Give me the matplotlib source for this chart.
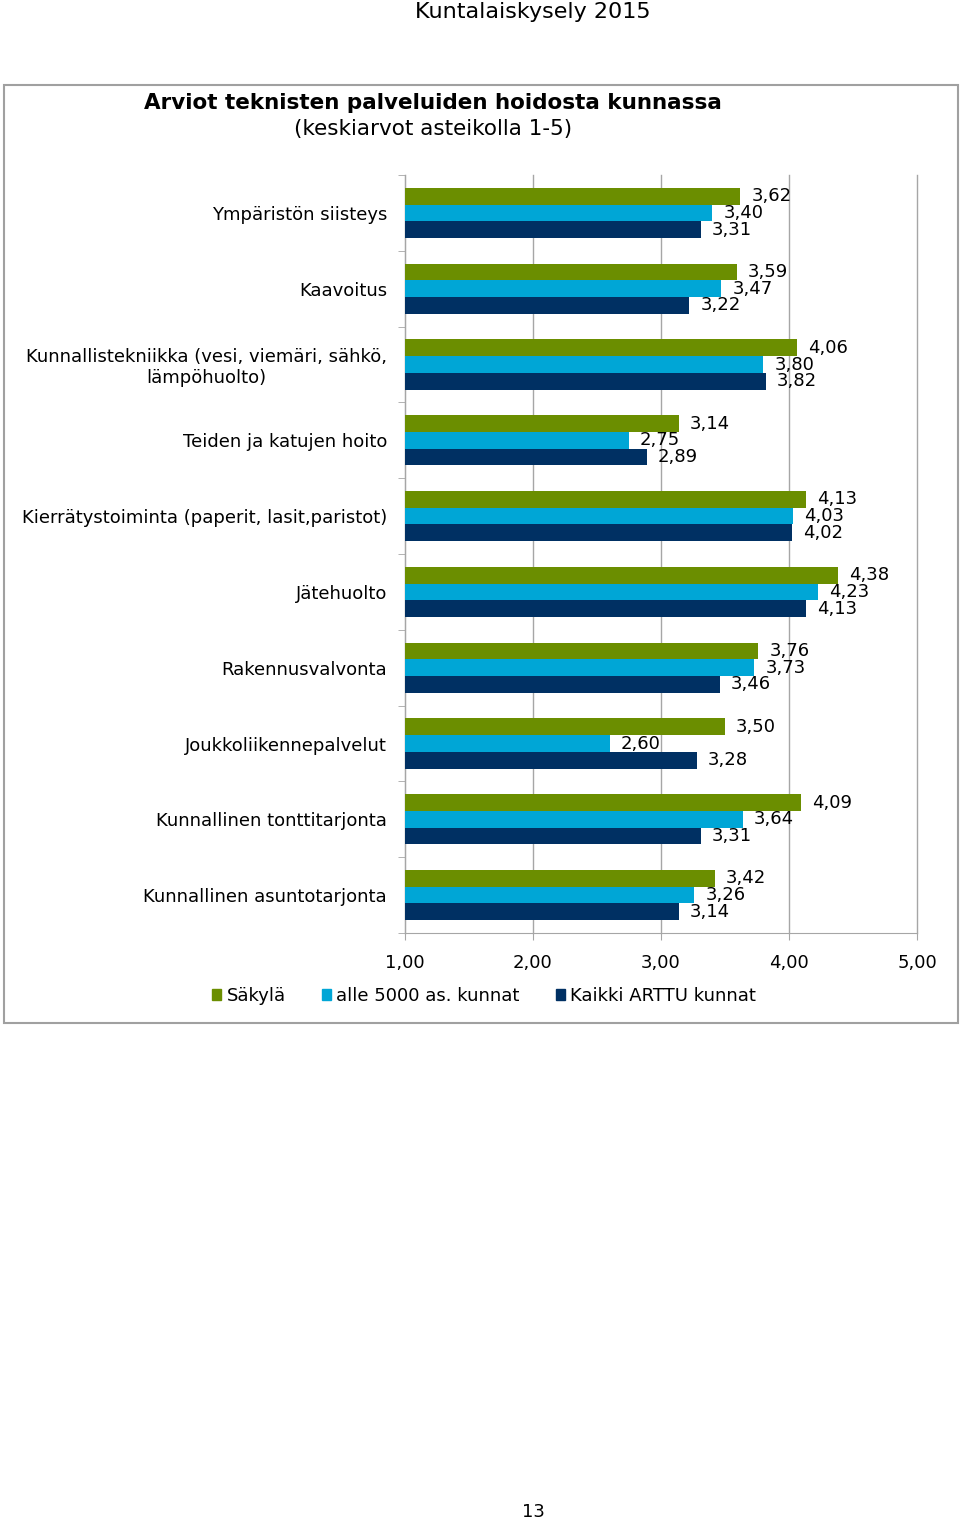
import numpy as np
import matplotlib.pyplot as plt
from matplotlib.patches import Patch, Rectangle

categories = [
    "Ympäristön siisteys",
    "Kaavoitus",
    "Kunnallistekniikka (vesi, viemäri, sähkö,\nlämpöhuolto)",
    "Teiden ja katujen hoito",
    "Kierrätystoiminta (paperit, lasit,paristot)",
    "Jätehuolto",
    "Rakennusvalvonta",
    "Joukkoliikennepalvelut",
    "Kunnallinen tonttitarjonta",
    "Kunnallinen asuntotarjonta",
]
sakyla = [3.62, 3.59, 4.06, 3.14, 4.13, 4.38, 3.76, 3.50, 4.09, 3.42]
alle5000 = [3.40, 3.47, 3.80, 2.75, 4.03, 4.23, 3.73, 2.60, 3.64, 3.26]
kaikki = [3.31, 3.22, 3.82, 2.89, 4.02, 4.13, 3.46, 3.28, 3.31, 3.14]
series_names = ["Säkylä", "alle 5000 as. kunnat", "Kaikki ARTTU kunnat"]
colors = ["#6b8e00", "#00a6d6", "#003063"]
xticks = [1, 2, 3, 4, 5]

W, H = 960, 1523
fig = plt.figure(figsize=(W / 100, H / 100), dpi=100)
fs = 13

fig.text(533 / W, 1 - 12 / H, "Kuntalaiskysely 2015", ha="center", va="center", fontsize=16)
fig.text(533 / W, 1 - 1512 / H, "13", ha="center", va="center", fontsize=13)

# chart border
fig.patches.append(Rectangle((4 / W, 1 - 1023 / H), 954 / W, 938 / H, transform=fig.transFigure,
                             fill=False, edgecolor="#a0a0a0", lw=1.5))
fig.text(433 / W, 1 - 103 / H, "Arviot teknisten palveluiden hoidosta kunnassa", ha="center", va="center",
         fontsize=15.5, fontweight="bold")
fig.text(433 / W, 1 - 129 / H, "(keskiarvot asteikolla 1-5)", ha="center", va="center", fontsize=15.5)

ax = fig.add_axes([405 / W, 1 - 933 / H, 512 / W, 758 / H])
y = np.arange(len(categories))
h = 0.22
gray = "#a6a6a6"
for k, (vals, col) in enumerate(zip([sakyla, alle5000, kaikki], colors)):
    pos = y + (k - 1) * h
    ax.barh(pos, np.array(vals) - 1, left=1, height=h, color=col, zorder=3)
    for p, v in zip(pos, vals):
        ax.annotate(f"{v:.2f}".replace(".", ","), (v, p), xytext=(8, 0), textcoords="offset points",
                    va="center", ha="left", fontsize=fs, zorder=4)

ax.set_xlim(1, 5)
ax.set_ylim(len(categories) - 0.5, -0.5)
ax.set_xticks(xticks)
ax.set_xticklabels([f"{t:.2f}".replace(".", ",") for t in xticks], fontsize=fs)
ax.set_yticks(y)
ax.set_yticklabels(categories, fontsize=fs)
for lab in ax.get_yticklabels():
    lab.set_multialignment("center")
ax.set_yticks(np.arange(-0.5, len(categories), 1), minor=True)
ax.tick_params(axis="y", which="major", length=0, pad=13)
ax.tick_params(axis="y", which="minor", length=5, color=gray, direction="out")
ax.tick_params(axis="x", length=5, color=gray, direction="out", pad=10)
ax.xaxis.grid(True, color=gray, lw=1, zorder=0)
for gl in ax.get_xgridlines():
    gl.set_clip_on(False)
ax.set_axisbelow(True)
for s in ["top", "right"]:
    ax.spines[s].set_visible(False)
for s in ["left", "bottom"]:
    ax.spines[s].set_color(gray)

handles = [Patch(color=c) for c in colors]
fig.legend(handles, series_names, loc="center", bbox_to_anchor=(484 / W, 1 - 996 / H), ncol=3,
           frameon=False, fontsize=fs, handlelength=0.5, handleheight=0.5, handletextpad=0.3,
           columnspacing=2.0)

fig.savefig("out.png", dpi=100)
